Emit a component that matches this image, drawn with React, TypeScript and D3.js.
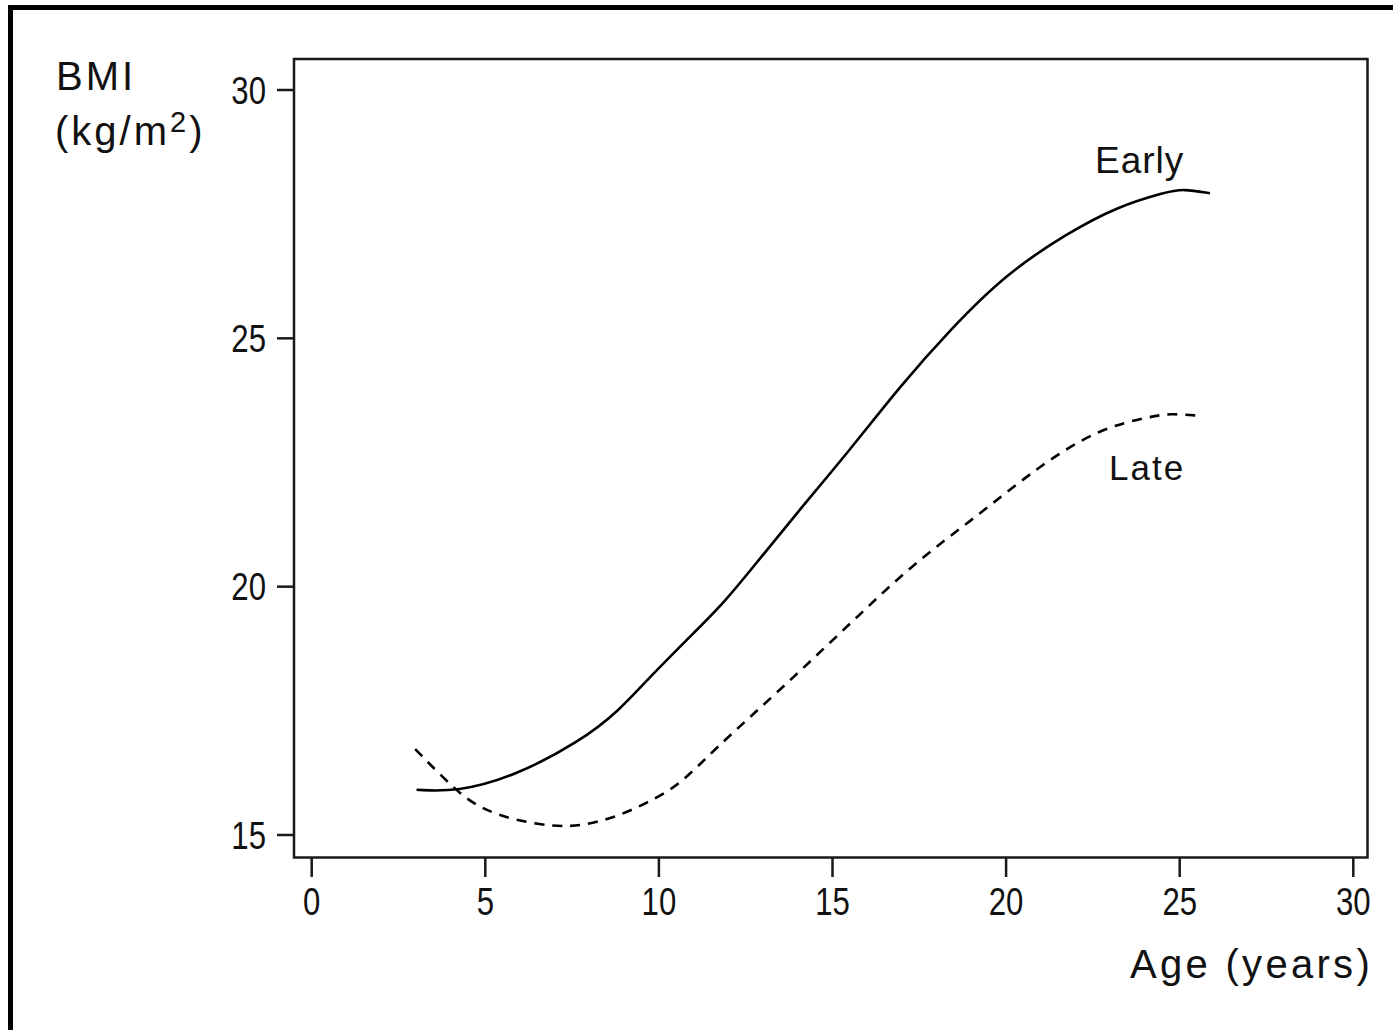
import React from "react";
import * as d3 from "d3";

const earlyAge = [3.02, 4.18, 5.8, 7.73, 8.88, 9.65, 11.09, 11.85, 12.72, 13.97, 15.5, 16.94, 18.38, 20.02, 21.75, 23.19, 24.63, 25.1, 25.87];
const earlyBMI = [15.91, 15.87, 16.17, 16.88, 17.52, 18.12, 19.13, 19.66, 20.4, 21.48, 22.75, 24.03, 25.17, 26.31, 27.11, 27.65, 27.95, 28.01, 27.92];

const lateAge = [2.98, 4.18, 4.85, 5.81, 6.96, 7.73, 8.69, 9.65, 10.61, 11.57, 13.49, 15.41, 17.33, 19.15, 20.98, 22.7, 24.14, 24.72, 25.58];
const lateBMI = [16.73, 15.87, 15.54, 15.3, 15.17, 15.18, 15.34, 15.64, 16.01, 16.71, 17.92, 19.19, 20.47, 21.41, 22.45, 23.19, 23.42, 23.49, 23.44];

const xTicks = [0, 5, 10, 15, 20, 25, 30];
const yTicks = [15, 20, 25, 30];

const W = 1393;
const H = 1030;

export default function App() {
  const x = d3.scaleLinear().domain([0, 30]).range([311.7, 1353.3]);
  const y = d3.scaleLinear().domain([15, 30]).range([835, 90]);

  const line = d3
    .line<[number, number]>()
    .x((d) => x(d[0]))
    .y((d) => y(d[1]))
    .curve(d3.curveBasis);

  const early: [number, number][] = earlyAge.map((a, i) => [a, earlyBMI[i]]);
  const late: [number, number][] = lateAge.map((a, i) => [a, lateBMI[i]]);

  const frame = { left: 294, top: 59, right: 1367.5, bottom: 857.5 };
  const sans = "'Liberation Sans', Arial, Helvetica, sans-serif";
  const sx = 0.82;

  return (
    <div style={{ position: "fixed", left: 0, top: 0, width: W, height: H, background: "#fff" }}>
      <svg width={W} height={H} style={{ display: "block" }}>
        <rect x={0} y={0} width={W} height={H} fill="#fff" />
        {/* outer border (top & left visible) */}
        <line x1={8} y1={7.5} x2={W} y2={7.5} stroke="#000" strokeWidth={5} />
        <line x1={10.5} y1={5} x2={10.5} y2={H} stroke="#000" strokeWidth={5} />

        {/* plot frame */}
        <rect
          x={frame.left}
          y={frame.top}
          width={frame.right - frame.left}
          height={frame.bottom - frame.top}
          fill="none"
          stroke="#1a1a1a"
          strokeWidth={2.5}
        />

        {/* y ticks */}
        {yTicks.map((t) => (
          <g key={"y" + t}>
            <line x1={277} x2={frame.left} y1={y(t)} y2={y(t)} stroke="#1a1a1a" strokeWidth={2.5} />
            <text
              transform={`translate(266,${y(t)}) scale(${sx},1)`}
              dy="0.36em"
              textAnchor="end"
              fontFamily={sans}
              fontSize={38}
              fill="#111"
            >
              {t}
            </text>
          </g>
        ))}

        {/* x ticks */}
        {xTicks.map((t) => (
          <g key={"x" + t}>
            <line x1={x(t)} x2={x(t)} y1={frame.bottom} y2={877} stroke="#1a1a1a" strokeWidth={2.5} />
            <text
              transform={`translate(${x(t)},915) scale(${sx},1)`}
              textAnchor="middle"
              fontFamily={sans}
              fontSize={38}
              fill="#111"
            >
              {t}
            </text>
          </g>
        ))}

        {/* curves */}
        <path d={line(early) || ""} fill="none" stroke="#000" strokeWidth={2.6} />
        <path d={line(late) || ""} fill="none" stroke="#000" strokeWidth={2.6} strokeDasharray="10 8" />

        {/* curve labels */}
        <text x={1095} y={173} fontFamily={sans} fontSize={37} letterSpacing={1} fill="#111">
          Early
        </text>
        <text x={1109} y={480} fontFamily={sans} fontSize={35} letterSpacing={2} fill="#111">
          Late
        </text>

        {/* axis titles */}
        <text x={56} y={90} fontFamily={sans} fontSize={40} letterSpacing={3} fill="#111">
          BMI
        </text>
        <text x={55} y={145} fontFamily={sans} fontSize={40} letterSpacing={3} fill="#111">
          (kg/m
          <tspan fontSize={29} dy={-13}>2</tspan>
          <tspan dy={13}>)</tspan>
        </text>
        <text x={1130} y={978} fontFamily={sans} fontSize={40} letterSpacing={3.3} fill="#111">
          Age (years)
        </text>
      </svg>
    </div>
  );
}
